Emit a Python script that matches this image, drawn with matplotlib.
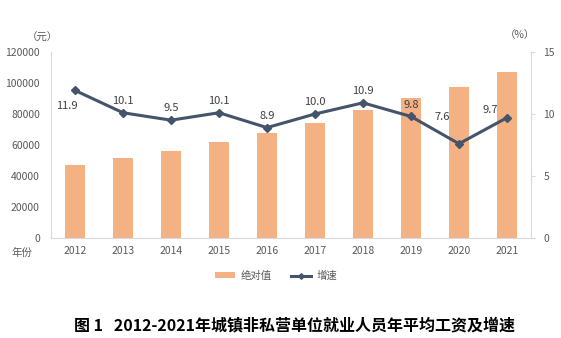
import matplotlib
matplotlib.use('Agg')
import matplotlib.pyplot as plt
import numpy as np

plt.rcParams['font.family'] = ['Noto Sans CJK SC', 'DejaVu Sans']

years = ['2012', '2013', '2014', '2015', '2016', '2017', '2018', '2019', '2020', '2021']
wage = [46769, 51483, 56360, 62029, 67569, 74318, 82413, 90501, 97379, 106837]
growth = [11.9, 10.1, 9.5, 10.1, 8.9, 10.0, 10.9, 9.8, 7.6, 9.7]
# label offsets in points (dx, dy)
lab_off = [(-6, -15), (0, 5), (0, 5), (0, 5), (0, 5), (0, 5), (0, 5), (0, 5), (-12, 16), (-12, 2)]

bar_c = '#F4B183'
line_c = '#44546A'
tick_c = '#595959'
spine_c = '#D9D9D9'

fig = plt.figure(figsize=(5.61, 3.38), dpi=100)
ax = fig.add_axes([0.0909, 0.2959, 0.8556, 0.5503])
x = np.arange(len(years))
ax.bar(x, wage, width=0.4, color=bar_c, label='绝对值', zorder=2)
ax.set_xlim(-0.5, len(years) - 0.5)
ax.set_ylim(0, 120000)
ax.set_yticks(np.arange(0, 120001, 20000))
ax.set_xticks(x)
ax.set_xticklabels(years)
ax.tick_params(axis='both', colors=tick_c, labelsize=7.5, length=0)
ax.tick_params(axis='y', pad=8)
ax.tick_params(axis='x', pad=6)
for s in ['top', 'right']:
    ax.spines[s].set_visible(False)
ax.spines['left'].set_color(spine_c)
ax.spines['bottom'].set_color(spine_c)

ax2 = ax.twinx()
ax2.plot(x, growth, color=line_c, lw=2.2, marker='D', ms=4, label='增速', zorder=3)
ax2.set_ylim(0, 15)
ax2.set_yticks([0, 5, 10, 15])
ax2.tick_params(axis='y', colors=tick_c, labelsize=7.5, length=3, color=spine_c, pad=6)
for s in ['top', 'left', 'bottom']:
    ax2.spines[s].set_visible(False)
ax2.spines['right'].set_color(spine_c)

for i, v in enumerate(growth):
    ax2.annotate('%.1f' % v, (x[i], v), xytext=lab_off[i], textcoords='offset points',
                 ha='center', va='bottom', fontsize=8, color='#404040')

fig.text(42 / 561, 1 - 38 / 338, '（元）', ha='center', va='center', fontsize=7.5, color=tick_c)
fig.text(520 / 561, 1 - 35 / 338, '（%）', ha='center', va='center', fontsize=7.5, color=tick_c)
fig.text(22 / 561, 1 - 253 / 338, '年份', ha='center', va='center', fontsize=7.5, color=tick_c)

h1, l1 = ax.get_legend_handles_labels()
h2, l2 = ax2.get_legend_handles_labels()
fig.legend(h1 + h2, l1 + l2, loc='center', bbox_to_anchor=(276 / 561, 1 - 276 / 338), ncol=2,
           frameon=False, fontsize=7.5, labelcolor=tick_c, handlelength=2.0, columnspacing=1.8,
           handleheight=0.5, handletextpad=0.5, markerscale=0.7)

fig.text(295 / 561, 1 - 325 / 338, '图 1   2012-2021年城镇非私营单位就业人员年平均工资及增速',
         ha='center', va='center', fontsize=11.5, fontweight='bold', color='black')

fig.savefig('out.png', dpi=100)
